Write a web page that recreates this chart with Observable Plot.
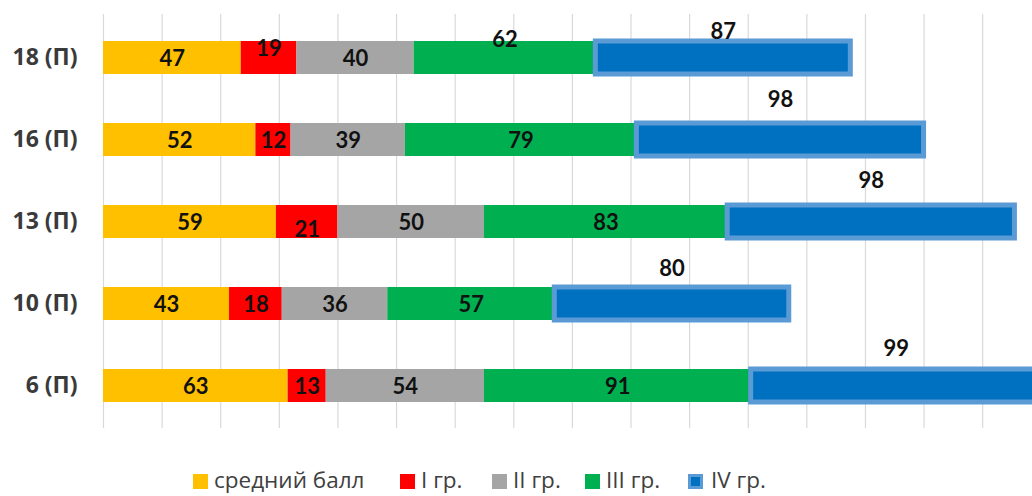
<!DOCTYPE html>
<html>
<head>
<meta charset="utf-8">
<script src="https://cdn.jsdelivr.net/npm/d3@7"></script>
<script src="https://cdn.jsdelivr.net/npm/@observablehq/plot@0.6"></script>
<style>
  html, body { margin: 0; padding: 0; background: #fff; }
  body { width: 1032px; height: 496px; overflow: hidden; font-family: Lato, "Open Sans", sans-serif; position: relative; }
  #chart svg { display: block; }
  #legend { position: absolute; left: 0; top: 465px; width: 1032px; height: 30px; font-family: "Open Sans", sans-serif; font-size: 22.5px; line-height: 30px; color: #404040; white-space: nowrap; }
  .item { position: absolute; top: 0; height: 30px; display: flex; align-items: center; }
  .sw { width: 15px; height: 15px; margin-right: 6px; margin-top: 3px; box-sizing: border-box; }
</style>
</head>
<body>
<div id="chart"></div>
<div id="legend"></div>
<script>
const categories = ["18 (П)", "16 (П)", "13 (П)", "10 (П)", "6 (П)"];
const seriesNames = ["средний балл", "I гр.", "II гр.", "III гр.", "IV гр."];
const avgScore = [47, 52, 59, 43, 63];
const group1 = [19, 12, 21, 18, 13];
const group2 = [40, 39, 50, 36, 54];
const group3 = [62, 79, 83, 57, 91];
const group4 = [87, 98, 98, 80, 99];
const xTicks = d3.range(0, 321, 20);

const colors = ["#FFC000", "#FF0000", "#A5A5A5", "#00B050", "#0070C0"];
const seriesValues = [avgScore, group1, group2, group3, group4];

// build stacked rows
const rows = [];
categories.forEach((cat, i) => {
  let acc = 0;
  seriesValues.forEach((vals, s) => {
    const v = vals[i];
    rows.push({cat, series: seriesNames[s], s, value: v, x1: acc, x2: acc + v});
    acc += v;
  });
});

// label nudges (vertical offsets in px), presentation only
const topNudge = {"18 (П)": -26, "16 (П)": -40, "13 (П)": -41, "10 (П)": -35, "6 (П)": -37};
function labelDy(d) {
  if (d.s === 4) return topNudge[d.cat];
  if (d.cat === "18 (П)" && d.s === 1) return -9;
  if (d.cat === "18 (П)" && d.s === 3) return -18;
  if (d.cat === "13 (П)" && d.s === 1) return 8;
  return 1;
}
const dys = Array.from(new Set(rows.map(labelDy)));

const plot = Plot.plot({
  width: 1032,
  height: 440,
  marginLeft: 103,
  marginRight: 0,
  marginTop: 14,
  marginBottom: 12,
  style: {fontFamily: "Lato, 'Open Sans', sans-serif", overflow: "visible"},
  x: {domain: [0, 317], axis: null},
  y: {domain: categories, paddingInner: 0.6, paddingOuter: 0.3, axis: null},
  color: {domain: seriesNames, range: colors},
  marks: [
    Plot.ruleX(xTicks, {stroke: "#D9D9D9", strokeWidth: 1.2}),
    Plot.barX(rows.filter(d => d.s < 4), {x1: "x1", x2: "x2", y: "cat", fill: "series"}),
    Plot.barX(rows.filter(d => d.s === 4), {x1: "x1", x2: "x2", y: "cat", fill: "series", stroke: "#5B9BD5", strokeWidth: 5}),
    Plot.axisY({label: null, tickSize: 0, tickPadding: 26, fontSize: 23, fontWeight: "bold", fontFamily: "'Open Sans', sans-serif", fill: "#3a3a3a"}),
    ...dys.map(dy =>
      Plot.text(rows.filter(d => labelDy(d) === dy), {
        x: d => (d.x1 + d.x2) / 2, y: "cat", text: d => String(d.value), dy,
        fontSize: 22, fontWeight: "bold", fill: "#111"
      })
    )
  ]
});
document.getElementById("chart").appendChild(plot);

const legendLeft = [193, 400, 492, 585, 688];
const legend = document.getElementById("legend");
seriesNames.forEach((name, s) => {
  const item = document.createElement("div");
  item.className = "item";
  item.style.left = legendLeft[s] + "px";
  const sw = document.createElement("div");
  sw.className = "sw";
  sw.style.background = colors[s];
  if (s === 4) { sw.style.border = "3px solid #5B9BD5"; sw.style.marginRight = "8px"; }
  const t = document.createElement("span");
  t.textContent = name;
  item.appendChild(sw); item.appendChild(t);
  legend.appendChild(item);
});
</script>
</body>
</html>
